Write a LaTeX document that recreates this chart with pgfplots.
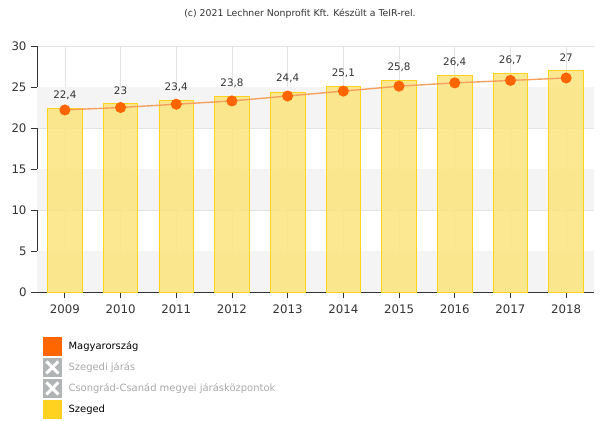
\documentclass[border=0pt]{standalone}
\usepackage{pgfplots}
\pgfplotsset{compat=1.18}
\usepackage{fontspec}
\setmainfont{DejaVu Sans}
\definecolor{BarFill}{HTML}{FBE47C}
\definecolor{BarEdge}{HTML}{FFD21F}
\definecolor{HuDot}{HTML}{FF6600}
\definecolor{HuLine}{HTML}{F7A05E}
\definecolor{Band}{HTML}{F4F4F4}
\definecolor{GridC}{HTML}{E4E4E4}
\definecolor{AxisC}{HTML}{333333}
\definecolor{Off}{HTML}{B0B4B4}
\definecolor{OffText}{HTML}{A8A8A8}
\definecolor{LabelC}{HTML}{333333}

\begin{document}
\begin{tikzpicture}
\begin{axis}[
    set layers,
    scale only axis,
    width=557bp, height=246bp,
    xmin=-0.5, xmax=9.5,
    ymin=0, ymax=30,
    xtick={0,...,9},
    xticklabels={2009,2010,2011,2012,2013,2014,2015,2016,2017,2018},
    ytick={0,5,...,30},
    axis x line*=bottom, axis y line*=left,
    axis line style={AxisC, line width=0.8pt, -},
    tick align=outside,
    major tick length=6bp,
    tick style={AxisC, line width=0.8pt},
    xmajorgrids, ymajorgrids,
    grid style={GridC, line width=0.6pt},
    ticklabel style={font=\fontsize{11.8}{13}\selectfont, text=AxisC},
    /pgf/number format/assume math mode=true,
    xticklabel style={yshift=-3bp},
    yticklabel style={xshift=-1bp},
    legend style={
        at={(0,-0.175)}, anchor=north west, xshift=3bp,
        draw=none, fill=none,
        font=\fontsize{10}{12}\selectfont,
        row sep=2.6bp,
        /tikz/every even column/.append style={column sep=3bp},
        /tikz/every odd column/.append style={column sep=5bp},
    },
    legend cell align=left,
]
% alternating background bands
\fill[Band, on layer=axis background] (axis cs:-0.5,0) rectangle (axis cs:9.5,5);
\fill[Band, on layer=axis background] (axis cs:-0.5,10) rectangle (axis cs:9.5,15);
\fill[Band, on layer=axis background] (axis cs:-0.5,20) rectangle (axis cs:9.5,25);

% Szeged
\addplot[ybar, bar width=0.62, fill=BarFill, fill opacity=0.85, draw=BarEdge, line width=0.8pt,
    nodes near coords,
    nodes near coords style={font=\fontsize{10.4}{12}\selectfont, text=LabelC, text opacity=1,
        /pgf/number format/use comma, /pgf/number format/assume math mode=true, yshift=5bp},
    forget plot]
    coordinates {(0,22.4) (1,23) (2,23.4) (3,23.8) (4,24.4) (5,25.1) (6,25.8) (7,26.4) (8,26.7) (9,27)};

% Magyarorszag
\addplot[HuLine, line width=1.4pt, mark=*, mark size=4.8bp,
    mark options={HuDot, fill=HuDot, draw=HuDot}, forget plot]
    coordinates {(0,22.2) (1,22.5) (2,22.9) (3,23.3) (4,23.9) (5,24.5) (6,25.1) (7,25.5) (8,25.8) (9,26.1)};

\addlegendimage{legend image code/.code={\fill[HuDot] (0,-9bp) rectangle (18bp,9bp);}}
\addlegendentry{Magyarország}
\addlegendimage{legend image code/.code={\fill[Off] (0,-9bp) rectangle (18bp,9bp);
    \draw[white, line width=3pt] (3bp,-6bp) -- (15bp,6bp) (3bp,6bp) -- (15bp,-6bp);}}
\addlegendentry{\textcolor{OffText}{Szegedi járás}}
\addlegendimage{legend image code/.code={\fill[Off] (0,-9bp) rectangle (18bp,9bp);
    \draw[white, line width=3pt] (3bp,-6bp) -- (15bp,6bp) (3bp,6bp) -- (15bp,-6bp);}}
\addlegendentry{\textcolor{OffText}{Csongrád-Csanád megyei járásközpontok}}
\addlegendimage{legend image code/.code={\fill[BarEdge] (0,-9bp) rectangle (18bp,9bp);}}
\addlegendentry{Szeged}
\end{axis}
\node[font=\fontsize{9.4}{11}\selectfont, text=AxisC] at ([xshift=263bp,yshift=32bp]current axis.north west) {(c) 2021 Lechner Nonprofit Kft. Készült a TeIR-rel.};
\path ([xshift=-37bp,yshift=-127bp]current axis.south west) rectangle ++(602bp,419bp);
\end{tikzpicture}
\end{document}
